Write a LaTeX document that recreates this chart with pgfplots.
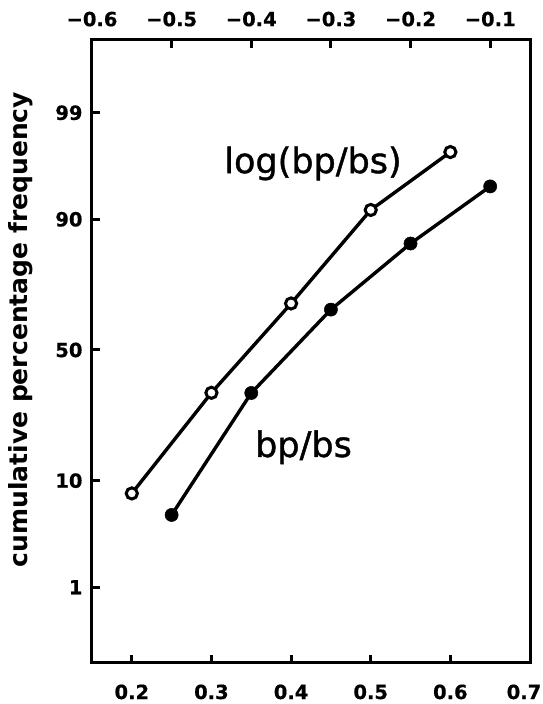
\documentclass[border=0pt]{standalone}
\usepackage{fontspec}
\setmainfont{DejaVu Sans}
\newfontfamily\labfont[FakeBold=1.2]{DejaVu Sans}
\newfontfamily\tickfont[FakeBold=0.6]{DejaVu Sans Bold}
\usepackage{pgfplots}
\pgfplotsset{compat=1.18}
\begin{document}
\begin{tikzpicture}
\path[use as bounding box] (-92pt,-41pt) rectangle (451pt,663pt);
\begin{axis}[
  at={(0pt,0pt)}, anchor=south west,
  scale only axis, width=438pt, height=623pt,
  xmin=0.15, xmax=0.70, ymin=-3.07, ymax=3.04,
  axis line style={line width=3pt},
  xtick={0.2,0.3,0.4,0.5,0.6},
  xticklabels={0.2,0.3,0.4,0.5,0.6},
  extra x ticks={0.7}, extra x tick labels={0.7},
  extra x tick style={xticklabel style={xshift=-6pt}},
  ytick={-2.3263,-1.2816,0,1.2816,2.3263},
  yticklabels={1,10,50,90,99},
  xtick pos=bottom, ytick pos=left, tick align=inside,
  major tick length=8pt,
  tick style={line width=3pt, black},
  ticklabel style={font=\tickfont\fontsize{19.5}{19.5}\selectfont},
  xticklabel style={yshift=-18pt},
  yticklabel style={xshift=-6pt},
  ylabel={cumulative percentage frequency},
  ylabel style={font=\bfseries\fontsize{25}{25}\selectfont,
    at={(axis description cs:-0.162,0.535)}, anchor=center, rotate=0},
  clip=false,
]
\addplot[line width=3.4pt, mark=*, mark size=5.6pt, mark options={fill=white, line width=3pt}]
  coordinates {(0.2,-1.407) (0.3,-0.420) (0.4,0.456) (0.5,1.373) (0.6,1.941)};
\addplot[line width=3.4pt, mark=*, mark size=6.6pt, mark options={fill=black, line width=0.5pt}]
  coordinates {(0.25,-1.618) (0.35,-0.422) (0.45,0.396) (0.55,1.044) (0.65,1.604)};
\node[font=\labfont\fontsize{35}{35}\selectfont, anchor=base] at (axis cs:0.4275,1.735) {log(bp/bs)};
\node[font=\labfont\fontsize{35}{35}\selectfont, anchor=base] at (axis cs:0.4156,-1.049) {bp/bs};
\end{axis}
\begin{axis}[
  at={(0pt,0pt)}, anchor=south west,
  scale only axis, width=438pt, height=623pt,
  xmin=-0.6, xmax=-0.05, ymin=-3.07, ymax=3.04,
  axis line style={line width=3pt},
  xtick={-0.6,-0.5,-0.4,-0.3,-0.2,-0.1},
  xticklabels={−0.6,−0.5,−0.4,−0.3,−0.2,−0.1},
  ytick=\empty,
  xtick pos=top, xticklabel pos=top, tick align=inside,
  major tick length=8pt,
  tick style={line width=3pt, black},
  ticklabel style={font=\tickfont\fontsize{19.5}{19.5}\selectfont},
  xticklabel style={yshift=10pt},
]
\end{axis}
\end{tikzpicture}
\end{document}
